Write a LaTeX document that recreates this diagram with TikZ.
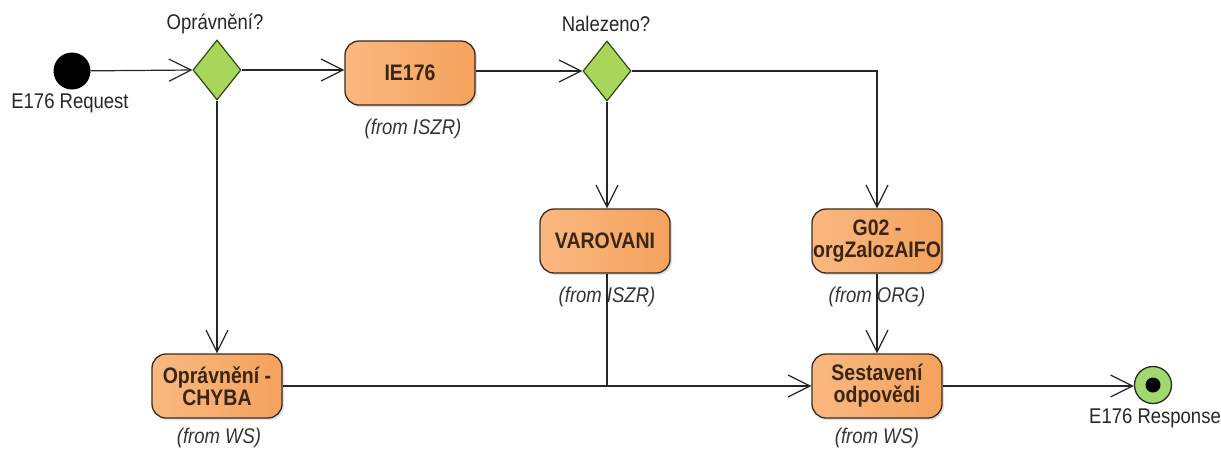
\documentclass[tikz,border=0pt]{standalone}
\usepackage{fontspec}
\usepackage{graphicx}
\setmainfont{Liberation Sans}
\usetikzlibrary{arrows.meta,shapes.geometric,shadows}
\definecolor{boxlight}{HTML}{F9B881}
\definecolor{boxdark}{HTML}{F5A25C}
\definecolor{boxline}{HTML}{3B2A1C}
\definecolor{boxtext}{HTML}{3A2614}
\definecolor{dfill}{HTML}{A8D65A}
\definecolor{dline}{HTML}{2F4A12}
\definecolor{endfill}{HTML}{A2D96E}
\newcommand{\vst}[1]{\scalebox{1}[1.15]{#1}}
\tikzset{
  act/.style={rectangle, rounded corners=14pt, minimum width=130pt, minimum height=64pt,
    inner sep=0pt, draw=boxline, line width=1.3pt, left color=boxlight, right color=boxdark,
    align=center, font=\fontsize{19.5}{23}\selectfont\bfseries, text=boxtext,
    drop shadow={shadow xshift=2pt, shadow yshift=-2pt, opacity=0.25}},
  dec/.style={diamond, minimum width=48pt, minimum height=60pt, inner sep=0pt,
    draw=dline, line width=1.2pt, fill=dfill},
  lbl/.style={font=\fontsize{18.5}{20}\selectfont, text=black!85, inner sep=0pt},
  from/.style={font=\fontsize{18.5}{20}\selectfont\itshape, text=black!80, inner sep=0pt},
  flow/.style={line width=1.2pt, draw=black!85, -{Straight Barb[length=22pt,width=22pt,line width=1.2pt]}},
  plain/.style={line width=1.2pt, draw=black!85}
}
\begin{document}
\begin{tikzpicture}[x=1pt,y=-1pt]
\useasboundingbox (0,0) rectangle (1221,451);
% start
\node[circle, fill=black, minimum size=37pt, inner sep=0pt] (start) at (72,71) {};
\node[lbl] (startl) at (70,103) {\vst{E176 Request}};
% decisions
\node[dec] (d1) at (217,70) {};
\node[lbl] (d1l) at (215,24) {\vst{Oprávnění?}};
\node[dec] (d2) at (607,71) {};
\node[lbl] (d2l) at (606,24) {\vst{Nalezeno?}};
% activities
\node[act] (ie) at (410,73) {\vst{IE176}};
\node[from] (iel) at (413,129) {\vst{(from ISZR)}};
\node[act] (var) at (605,241) {\vst{VAROVANI}};
\node[from] (varl) at (607,297) {\vst{(from ISZR)}};
\node[act] (g02) at (877,241) {\vst{G02 -}\\[-1pt]\vst{orgZalozAIFO}};
\node[from] (g02l) at (877,297) {\vst{(from ORG)}};
\node[act] (chy) at (217,386) {\vst{Oprávnění -}\\[-1pt]\vst{CHYBA}};
\node[from] (chyl) at (219,438) {\vst{(from WS)}};
\node[act] (ses) at (877,386) {\vst{Sestavení}\\[-1pt]\vst{odpovědi}};
\node[from] (sesl) at (877,438) {\vst{(from WS)}};
% end
\node[circle, draw=black!85, line width=1.3pt, fill=endfill, minimum size=37pt, inner sep=0pt] (end) at (1153,385) {};
\node[circle, fill=black, minimum size=15pt, inner sep=0pt] (endin) at (end) {};
\node[lbl] (endl) at (1155,418) {\vst{E176 Response}};
% connectors
\draw[flow] (start) -- (d1.west);
\draw[flow] (d1.east) -- (ie.west |- d1.east);
\draw[flow] (ie.east |- d2.west) -- (d2.west);
\draw[flow] (d2.south) -- (var.north -| d2.south);
\coordinate (c1) at (877,71);
\draw[flow] (d2.east) -- (c1) -- (g02.north);
\draw[flow] (d1.south) -- (chy.north -| d1.south);
\draw[flow] (chy.east) -- (ses.west);
\coordinate (j1) at (607,386);
\draw[plain] (var.south -| j1) -- (j1);
\draw[flow] (g02.south) -- (ses.north);
\draw[flow] (ses.east) -- (end.west |- ses.east);
\end{tikzpicture}
\end{document}
